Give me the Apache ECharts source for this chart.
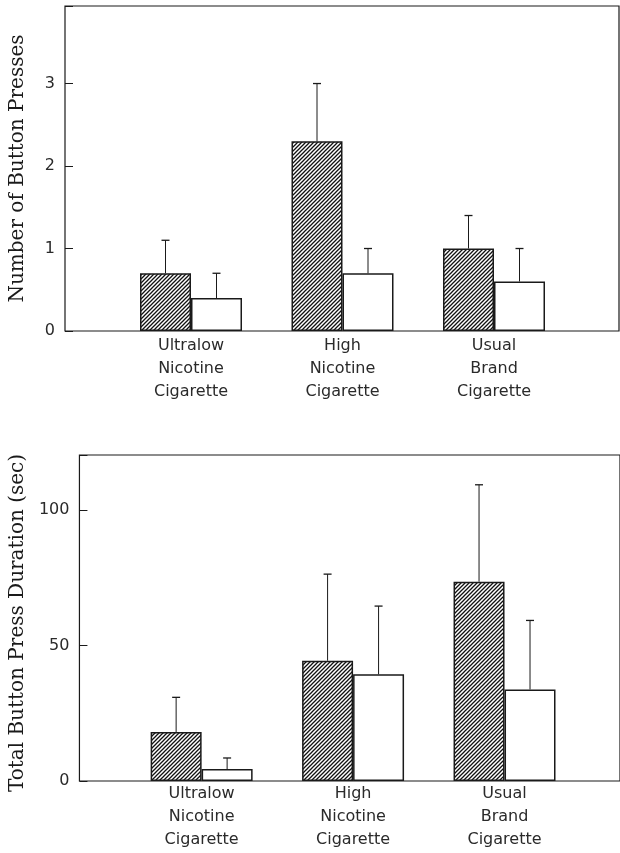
<!DOCTYPE html>
<html>
<head>
<meta charset="utf-8">
<script src="https://cdn.jsdelivr.net/npm/echarts@6/dist/echarts.min.js"></script>
<style>
html,body{margin:0;padding:0;background:#fff;}
#chart{width:620px;height:853px;}
</style>
</head>
<body>
<div id="chart"></div>
<script>
// ---- data ----
const categories = ['Ultralow\nNicotine\nCigarette', 'High\nNicotine\nCigarette', 'Usual\nBrand\nCigarette'];

const pressesHatched = [0.7, 2.3, 1.0];
const pressesHatchedErr = [0.4, 0.7, 0.4];
const pressesOpen = [0.4, 0.7, 0.6];
const pressesOpenErr = [0.3, 0.3, 0.4];
const pressTicks = [0, 1, 2, 3];

const durationHatched = [18.1, 44.4, 73.6];
const durationHatchedErr = [12.8, 32.0, 35.8];
const durationOpen = [4.4, 39.4, 33.8];
const durationOpenErr = [4.1, 25.2, 25.5];
const durationTicks = [0, 50, 100];

const pressTitle = 'Number of Button Presses';
const durationTitle = 'Total Button Press Duration (sec)';

// ---- styling ----
const INK = '#1a1a1a';
const BAR_FRAC = 51 / 151.5;

function hatchPattern() {
  const s = 4;
  const c = document.createElement('canvas');
  c.width = s; c.height = s;
  const g = c.getContext('2d');
  g.fillStyle = '#fff';
  g.fillRect(0, 0, s, s);
  g.strokeStyle = '#111';
  g.lineWidth = 1.3;
  g.beginPath();
  g.moveTo(0, s); g.lineTo(s, 0);
  g.moveTo(-1, 1); g.lineTo(1, -1);
  g.moveTo(s - 1, s + 1); g.lineTo(s + 1, s - 1);
  g.stroke();
  return c;
}
const hatch = { image: hatchPattern(), repeat: 'repeat' };

function errData(vals, errs) {
  return vals.map((v, i) => [i, v, v + errs[i]]);
}

function errSeries(xi, yi, vals, errs, side) {
  return {
    type: 'custom',
    xAxisIndex: xi, yAxisIndex: yi,
    data: errData(vals, errs),
    z: 1,
    renderItem: function (params, api) {
      const i = api.value(0);
      const base = api.coord([i, api.value(1)]);
      const top = api.coord([i, api.value(2)]);
      const band = api.size([1, 0])[0];
      const x = base[0] + side * band * BAR_FRAC / 2;
      const cap = 4;
      return {
        type: 'group',
        children: [
          { type: 'line', shape: { x1: x, y1: base[1], x2: x, y2: top[1] }, style: { stroke: INK, lineWidth: 1 } },
          { type: 'line', shape: { x1: x - cap, y1: top[1], x2: x + cap, y2: top[1] }, style: { stroke: INK, lineWidth: 1.3 } }
        ]
      };
    }
  };
}

function barSeries(xi, yi, vals, fill) {
  return {
    type: 'bar',
    xAxisIndex: xi, yAxisIndex: yi,
    data: vals,
    barWidth: (BAR_FRAC * 100) + '%',
    barGap: '0%',
    z: 3,
    itemStyle: { color: fill, borderColor: INK, borderWidth: 1.5 },
    animation: false
  };
}

function valueYAxis(gi, max, interval, ticks, title, gap, pad) {
  return {
    type: 'value', gridIndex: gi, min: 0, max: max, interval: interval,
    axisLine: { show: false },
    axisTick: { show: true, inside: true, length: 8, lineStyle: { color: INK, width: 1 } },
    splitLine: { show: false },
    showMaxLabel: false,
    axisLabel: {
      margin: 10, color: '#2a2a2a', fontFamily: 'DejaVu Sans', fontSize: 16,
      formatter: v => (ticks.indexOf(v) >= 0 ? String(v) : '')
    },
    name: title, nameLocation: 'middle', nameRotate: 90, nameGap: gap,
    nameTextStyle: { fontFamily: 'DejaVu Serif', fontSize: 20, color: INK, padding: pad }
  };
}

function hiddenY(gi, max) {
  return { type: 'value', gridIndex: gi, min: 0, max: max, show: false };
}

function catX(gi, margin) {
  return {
    type: 'category', gridIndex: gi, data: categories,
    axisLine: { show: false }, axisTick: { show: false },
    axisLabel: { margin: margin, color: '#2a2a2a', fontFamily: 'DejaVu Sans', fontSize: 16, lineHeight: 23 }
  };
}

const chart = echarts.init(document.getElementById('chart'), null, { renderer: 'canvas' });
const PRESS_MAX = 3.94, DUR_MAX = 120.4;

chart.setOption({
  backgroundColor: '#fff',
  animation: false,
  grid: [
    { left: 63.5, top: 6, width: 555.5, height: 325, show: true, borderColor: INK, borderWidth: 1.2, backgroundColor: 'transparent' },
    { left: 191 - 75.75, top: 6, width: 151.5 * 3, height: 325 },
    { left: 73.5, top: 455, right: -40, height: 326, show: true, borderColor: INK, borderWidth: 1.2, backgroundColor: 'transparent' },
    { left: 201.6 - 75.7, top: 455, width: 151.45 * 3, height: 326 }
  ],
  xAxis: [
    { type: 'value', gridIndex: 0, show: false, min: 0, max: 1 },
    catX(1, 3),
    { type: 'value', gridIndex: 2, show: false, min: 0, max: 1 },
    catX(3, 1)
  ],
  yAxis: [
    valueYAxis(0, PRESS_MAX, 1, pressTicks, pressTitle, 37, [0, 0, 0, 0]),
    hiddenY(1, PRESS_MAX),
    valueYAxis(2, DUR_MAX, 50, durationTicks, durationTitle, 47, [0, 10, 0, 0]),
    hiddenY(3, DUR_MAX)
  ],
  series: [
    errSeries(1, 1, pressesHatched, pressesHatchedErr, -1),
    errSeries(1, 1, pressesOpen, pressesOpenErr, 1),
    barSeries(1, 1, pressesHatched, hatch),
    barSeries(1, 1, pressesOpen, '#fff'),
    errSeries(3, 3, durationHatched, durationHatchedErr, -1),
    errSeries(3, 3, durationOpen, durationOpenErr, 1),
    barSeries(3, 3, durationHatched, hatch),
    barSeries(3, 3, durationOpen, '#fff')
  ]
});
</script>
</body>
</html>
